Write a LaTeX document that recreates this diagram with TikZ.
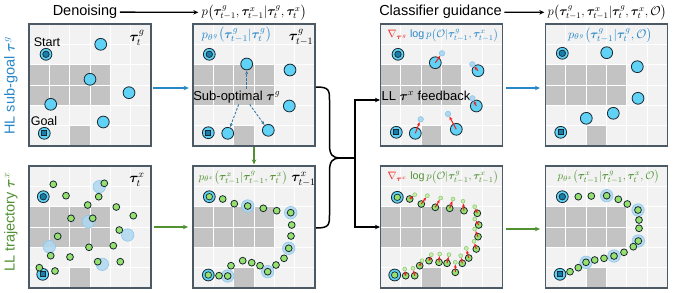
\documentclass[tikz,border=0pt]{standalone}
\usepackage{fix-cm}
\usepackage{amsmath,bm}
\usepackage{graphicx}
\usepackage{fontspec}
\setmainfont{Liberation Sans}
\usetikzlibrary{arrows.meta,calc}
\definecolor{hlblue}{RGB}{40,135,200}
\definecolor{llgreen}{RGB}{80,145,50}
\definecolor{cyanf}{RGB}{95,210,245}
\definecolor{dkline}{RGB}{25,40,50}
\definecolor{innerb}{RGB}{25,125,165}
\definecolor{dotg}{RGB}{150,225,110}
\definecolor{halocol}{RGB}{175,215,240}
\definecolor{haloln}{RGB}{140,200,235}
\definecolor{blk}{RGB}{195,195,195}
\definecolor{bgp}{RGB}{242,242,242}
\definecolor{bord}{RGB}{75,90,100}
\definecolor{redg}{RGB}{240,30,30}
\definecolor{dashb}{RGB}{55,120,165}
\newcommand\fsA{\fontsize{14.5}{17}\selectfont}
\newcommand\fsM{\fontsize{12}{14}\selectfont}
\newcommand\fsT{\fontsize{14}{16}\selectfont}
\newcommand\fsS{\fontsize{12.5}{14}\selectfont}
\newcommand\fsF{\fontsize{13}{15}\selectfont}
\newcommand\FitW[2]{\resizebox{#1pt}{!}{#2}}
\newcommand\PanelBG[2]{%
  \fill[bgp] (#1,#2) rectangle ++(122,122);
  \foreach \cc/\rr in {0/2,1/2,2/2,3/2,0/3,1/3,2/3,3/3,2/5}
    \fill[blk] ({#1+\cc*122/6},{#2+\rr*122/6}) rectangle ++(122/6,122/6);
  \foreach \kk in {1,...,5} {
    \draw[white,line width=0.8pt] ({#1+\kk*122/6},#2) -- ++(0,122);
    \draw[white,line width=0.8pt] (#1,{#2+\kk*122/6}) -- ++(122,0);
  }%
}
\newcommand\StartN[3]{\node[cyc] (#1) at (#2,#3) {}; \node[stin] (#1i) at (#2,#3) {};}
\newcommand\GoalN[3]{\node[cyc] (#1) at (#2,#3) {}; \node[glin] (#1i) at (#2,#3) {};}
\newcommand\StartG[3]{\node[cyc] (#1) at (#2,#3) {}; \node[gin] (#1i) at (#2,#3) {};}
\begin{document}
\begin{tikzpicture}[x=1pt,y=-1pt,
  panel/.style={draw=bord,line width=1.1pt,minimum size=122pt,inner sep=0pt},
  cyc/.style={circle,fill=cyanf,draw=dkline,line width=0.8pt,minimum size=11.8pt,inner sep=0pt},
  stin/.style={circle,fill=innerb,draw=dkline,line width=0.7pt,minimum size=6.5pt,inner sep=0pt},
  glin/.style={rectangle,fill=innerb,draw=dkline,line width=0.7pt,minimum size=5pt,inner sep=0pt},
  gin/.style={circle,fill=dotg,draw=dkline,line width=0.7pt,minimum size=6.5pt,inner sep=0pt},
  gdot/.style={circle,fill=dotg,draw=dkline,line width=0.8pt,minimum size=6.8pt,inner sep=0pt},
  halo/.style={circle,fill=halocol,draw=haloln,line width=0.6pt,minimum size=12.5pt,inner sep=0pt,fill opacity=0.85},
  ghb/.style={circle,fill=halocol,draw=haloln,line width=0.6pt,minimum size=5.5pt,inner sep=0pt},
  ghg/.style={circle,fill=dotg!55,draw=dotg!85!black,line width=0.4pt,minimum size=4pt,inner sep=0pt},
  redarr/.style={draw=redg,line width=1pt,-{Stealth[length=3.5pt,width=3pt]}},
  bluearr/.style={draw=hlblue,line width=1.3pt,-{Stealth[length=5pt,width=4.5pt]}},
  greenarr/.style={draw=llgreen,line width=1.3pt,-{Stealth[length=5pt,width=4.5pt]}},
  blackarr/.style={draw=black,line width=1.3pt,-{Stealth[length=5pt,width=4.5pt]}},
  dasharr/.style={draw=dashb,line width=0.9pt,dash pattern=on 2.5pt off 1.5pt,-{Stealth[length=3.5pt,width=3pt]}},
  txt/.style={inner sep=1.5pt}
]
\useasboundingbox (0,0) rectangle (674,292);
% ---------- headers ----------
\node[txt,font=\fsA] (den) at (85,12) {Denoising};
\node[inner sep=0pt,font=\fsM] (hm1) at (254,12.5) {\FitW{105}{$p\bigl(\bm\tau^g_{t-1},\bm\tau^x_{t-1}|\bm\tau^g_t,\bm\tau^x_t\bigr)$}};
\draw[blackarr,shorten >=3pt,shorten <=1pt] (den) -- (hm1);
\node[txt,font=\fsA] (cg) at (440.5,12) {Classifier guidance};
\node[inner sep=0pt,font=\fsM] (hm2) at (607,12.5) {\FitW{119}{$p\bigl(\bm\tau^g_{t-1},\bm\tau^x_{t-1}|\bm\tau^g_t,\bm\tau^x_t,\mathcal{O}\bigr)$}};
\draw[blackarr,shorten >=3pt,shorten <=1pt] (cg) -- (hm2);
\node[txt,font=\fsA,text=hlblue,rotate=90] (hl) at (11,86) {HL sub-goal $\bm\tau^g$};
\node[txt,font=\fsA,text=llgreen,rotate=90] (ll) at (11,222) {LL trajectory $\bm\tau^x$};
% ---------- panel 1 ----------
\PanelBG{29}{24}
\node[panel] (p1) at (90,85) {};
\StartN{p1s}{46}{54.3}
\GoalN{p1g}{44.3}{133.3}
\foreach \x/\y [count=\i] in {100.7/44.3,90/79.3,129/92.7,50.7/104.3,103.3/122}
  \node[cyc] (c1\i) at (\x,\y) {};
\node[txt,font=\fsS] (st1) at (47,42) {Start};
\node[txt,font=\fsS] (go1) at (44,121) {Goal};
\node[txt,font=\fsT] (t1) at (137,38) {$\bm\tau^g_t$};
% ---------- panel 2 ----------
\PanelBG{193}{24}
\node[panel] (p2) at (254,85) {};
\StartN{p2s}{209.3}{54.3}
\GoalN{p2g}{208.3}{132.7}
\node[cyc] (c2a) at (246.7,64) {};
\node[cyc] (c2b) at (290,70) {};
\node[cyc] (c2c) at (289.3,106) {};
\node[cyc] (c2d) at (227.7,133.3) {};
\node[cyc] (c2e) at (268.3,130.3) {};
\node[txt,text=hlblue,inner sep=0.5pt] (l2) at (236.5,35) {\FitW{70}{$p_{\theta^g}\bigl(\bm\tau^g_{t-1}|\bm\tau^g_t\bigr)$}};
\node[txt,font=\fsT,inner sep=0.5pt] (t2) at (301,37.5) {$\bm\tau^g_{t-1}$};
\node[txt,font=\fsF] (sub) at (236.7,96.7) {Sub-optimal $\bm\tau^g$};
\draw[dasharr,shorten >=0.5pt] ([xshift=10pt]sub.north) -- (c2a);
\draw[dasharr,shorten >=0.5pt] ([xshift=2pt]sub.south) -- (c2d);
\draw[dasharr,shorten >=0.5pt] ([xshift=13pt]sub.south) -- (c2e);
% ---------- panel 3 ----------
\PanelBG{380.5}{24}
\node[panel] (p3) at (441.5,85) {};
\StartN{p3s}{398}{54.3}
\GoalN{p3g}{396.3}{132.3}
\node[txt,font=\fsF] (fb) at (426,96) {LL $\bm\tau^x$ feedback};
\foreach \x/\y/\u/\v [count=\i] in {435.3/62.7/442/53.3,478/70.7/472.3/64.3,476.3/106/472.3/98.3,415.3/133.3/420.7/119.3,456.3/129.3/448/114}{
  \node[cyc] (c3\i) at (\x,\y) {};
  \node[ghb] (g3\i) at (\u,\v) {};
  \draw[redarr] (c3\i.center) -- (g3\i);
}
\node[txt,inner sep=0.5pt] (l3) at (443,35) {\FitW{111}{\textcolor{redg}{$\nabla_{\bm\tau^g}$}\ \textcolor{hlblue}{$\log p\bigl(\mathcal{O}|\bm\tau^g_{t-1},\bm\tau^x_{t-1}\bigr)$}}};
% ---------- panel 4 ----------
\PanelBG{545.5}{24}
\node[panel] (p4) at (606.5,85) {};
\StartN{p4s}{562.3}{53.3}
\GoalN{p4g}{560.7}{132.3}
\foreach \x/\y [count=\i] in {606.7/52.7,637.3/66.7,638/98.3,613.3/113.3,586.3/118.3}
  \node[cyc] (c4\i) at (\x,\y) {};
\node[txt,text=hlblue,inner sep=0.5pt] (l4) at (610,35) {\FitW{84}{$p_{\theta^g}\bigl(\bm\tau^g_{t-1}|\bm\tau^g_t,\mathcal{O}\bigr)$}};
% ---------- panel 5 ----------
\PanelBG{29}{166}
\node[panel] (p5) at (90,227) {};
\foreach \x/\y [count=\i] in {99.3/186.7,88.3/221.7,127.7/235,49.3/246.7,102.3/264.3}
  \node[halo] (h5\i) at (\x,\y) {};
\StartN{p5s}{43.3}{196.7}
\GoalN{p5g}{42.7}{274.3}
\foreach \x/\y [count=\i] in {53.3/184.3,66/195.7,104.3/183.3,98.7/196.7,87.7/205,116.3/207,133.3/215.7,71/218.3,92.7/218.3,119.3/230,57.7/236.3,113.3/245.7,89/247.3,50.7/255.7,70/257,97.7/261.7,120.3/261.7,39.3/267.7,55/271}
  \node[gdot] (d5\i) at (\x,\y) {};
\node[txt,font=\fsT,inner sep=0.5pt] (t5) at (137,180) {$\bm\tau^x_t$};
% ---------- panel 6 ----------
\PanelBG{193}{166}
\node[panel] (p6) at (254,227) {};
\foreach \x/\y [count=\i] in {247.7/206,290.7/212.7,288.7/248.3,267.7/271.7,227.7/276}
  \node[halo] (h6\i) at (\x,\y) {};
\StartG{p6s}{209.3}{196.7}
\StartG{p6g}{208.3}{275}
\foreach \x/\y [count=\i] in {222.7/199,234.3/203.7,247.7/206,263.3/208.3,276.7/210.7,290.7/212.7,291.7/225,291/236,288.7/248.3,284/258.3,276/265,267.7/271.7,260/265.7,251.7/262.7,242.7/260.7,231/265.7,227.7/276,219/275.7}
  \node[gdot] (d6\i) at (\x,\y) {};
\node[txt,text=llgreen,inner sep=0pt] (l6) at (243,177.5) {\FitW{89}{$p_{\theta^x}\bigl(\bm\tau^x_{t-1}|\bm\tau^g_{t-1},\bm\tau^x_t\bigr)$}};
\node[txt,font=\fsT,inner sep=0pt] (t6) at (303.5,179.5) {$\bm\tau^x_{t-1}$};
% ---------- panel 7 ----------
\PanelBG{380.5}{166}
\node[panel] (p7) at (441.5,227) {};
\StartG{p7s}{397.3}{197.3}
\StartG{p7g}{394.7}{275}
\foreach \x/\y/\u/\v [count=\i] in {409.7/199/414.7/194.7,421.3/204/427.3/195.7,435.3/207.3/440.7/198,449.7/208.3/453/199,464/210.7/463/201.3,477.3/213.3/474.7/206.7,478.7/225/474.7/219,478/236.7/474.7/229,476.3/249/474/241.3,468.7/258/466.3/248.3,462.3/263.3/460.7/255.7,455.3/272.3/455.3/262.3,447/263.3/449/254.7,439/262.3/439.7/254,429/260.7/431.3/254.7,419.7/265.7/422/260.7,414.7/275.7/413/268.3,405.7/275.7/404.7/269}{
  \node[gdot] (d7\i) at (\x,\y) {};
  \node[ghg] (g7\i) at (\u,\v) {};
  \draw[redarr] (d7\i.center) -- (g7\i);
}
\node[txt,inner sep=0.5pt] (l7) at (443,177) {\FitW{111}{\textcolor{redg}{$\nabla_{\bm\tau^x}$}\ \textcolor{llgreen}{$\log p\bigl(\mathcal{O}|\bm\tau^g_{t-1},\bm\tau^x_{t-1}\bigr)$}}};
% ---------- panel 8 ----------
\PanelBG{545.5}{166}
\node[panel] (p8) at (606.5,227) {};
\foreach \x/\y [count=\i] in {606.7/195.7,638/210,638.3/241,614/256,586/262.3}
  \node[halo] (h8\i) at (\x,\y) {};
\StartN{p8s}{562.3}{196.7}
\GoalN{p8g}{560}{274.3}
\foreach \x/\y [count=\i] in {578.3/196.7,591.3/196,606.7/195.7,618.3/199.3,627.3/204,638/210,639/220,639/228.3,638.3/241,633.3/246.7,624/252.3,614/256,604/258.3,594.7/260,586/262.3,578.3/267.7,570/271.7}
  \node[gdot] (d8\i) at (\x,\y) {};
\node[txt,text=llgreen,inner sep=0.5pt] (l8) at (608.5,177) {\FitW{102}{$p_{\theta^x}\bigl(\bm\tau^x_{t-1}|\bm\tau^g_{t-1},\bm\tau^x_t,\mathcal{O}\bigr)$}};
% ---------- connectors ----------
\draw[bluearr,shorten <=1.7pt,shorten >=3.7pt] ([yshift=-3pt]p1.east) -- ([yshift=-3pt]p2.west);
\draw[bluearr,shorten <=3pt,shorten >=5pt] ([yshift=-3pt]p3.east) -- ([yshift=-3pt]p4.west);
\draw[greenarr,shorten <=2pt,shorten >=4.5pt] (p5.east) -- (p6.west);
\draw[greenarr,shorten <=3pt,shorten >=5pt] ([yshift=-2pt]p7.east) -- ([yshift=-2pt]p8.west);
\draw[greenarr,shorten >=1pt] (p2.south) -- (p6.north);
\coordinate (bt) at (340,158);
\coordinate (jn) at (355,158);
\coordinate (bra) at (316,87);
\coordinate (brb) at (316,228);
\draw[line width=1.5pt] (bra) .. controls (329,87) and (329.5,90) .. (329.5,100) -- (329.5,145)
   .. controls (329.5,155) and (333,158) .. (bt);
\draw[line width=1.5pt] (brb) .. controls (329,228) and (329.5,225) .. (329.5,215) -- (329.5,171)
   .. controls (329.5,161) and (333,158) .. (bt);
\draw[line width=1.3pt] (bt) -- (jn);
\draw[blackarr] (jn) |- ([yshift=-15pt]p3.west);
\draw[blackarr] (jn) |- (p7.west);
\end{tikzpicture}
\end{document}
